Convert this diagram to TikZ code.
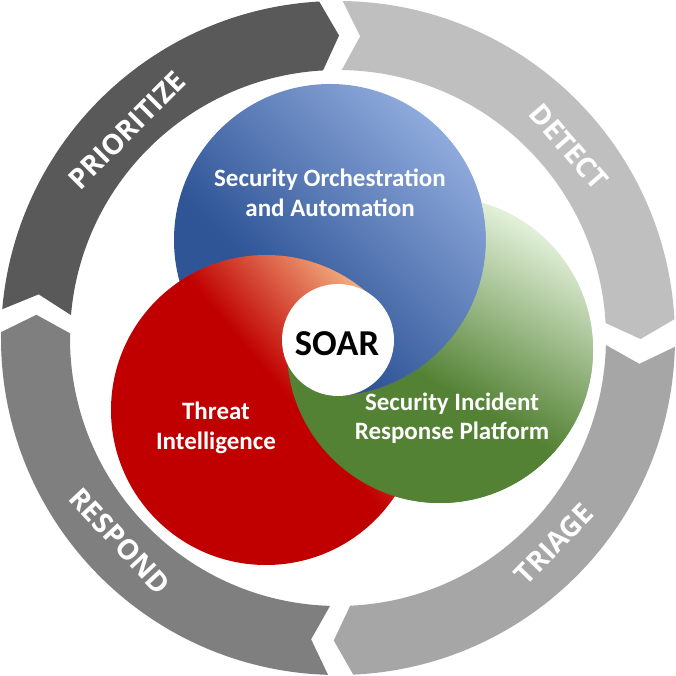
\documentclass[tikz,border=0pt]{standalone}
\usepackage{fontspec}
\newfontfamily\carlito{Carlito}
\newfontfamily\ringfont{Open Sans}
\definecolor{bluedark}{HTML}{2F5597}
\definecolor{bluelight}{HTML}{8FAADC}
\definecolor{reddark}{HTML}{C00000}
\definecolor{redlight}{HTML}{F4B183}
\definecolor{greendark}{HTML}{548235}
\definecolor{greenlight}{HTML}{E2F0D9}
\definecolor{segA}{HTML}{595959}
\definecolor{segB}{HTML}{BFBFBF}
\definecolor{segC}{HTML}{A6A6A6}
\definecolor{segD}{HTML}{7F7F7F}
\pgfdeclarehorizontalshading{blueshade}{100bp}{color(0bp)=(bluedark); color(38bp)=(bluedark); color(75bp)=(bluelight); color(100bp)=(bluelight)}
\pgfdeclarehorizontalshading{redshade}{100bp}{color(0bp)=(reddark); color(54bp)=(reddark); color(75bp)=(redlight); color(100bp)=(redlight)}
\pgfdeclarehorizontalshading{greenshade}{100bp}{color(0bp)=(greendark); color(45bp)=(greendark); color(75bp)=(greenlight); color(100bp)=(greenlight)}
\newcommand\ringseg[3]{%
  \fill[#1] ({#2}:337pt) arc[start angle={#2}, end angle={#3}, radius=337pt]
    -- ({#3-3.4}:302.5pt) -- ({#3}:268pt)
    arc[start angle={#3}, end angle={#2}, radius=268pt]
    -- ({#2-3.4}:302.5pt) -- cycle;}
\tikzset{
  ringlabel/.style={text=white, font=\ringfont\bfseries\fontsize{28}{30}\selectfont, inner sep=0pt},
  circlelabel/.style={text=white, font=\carlito\bfseries\fontsize{25}{29.5}\selectfont, align=center, inner sep=0pt},
  bluefill/.style={shading=blueshade, shading angle=45},
  redfill/.style={shading=redshade, shading angle=40},
  greenfill/.style={shading=greenshade, shading angle=60}
}
\begin{document}
\begin{tikzpicture}[x=1pt,y=1pt]
\fill[white] (-338,-338) rectangle (338,338);
\useasboundingbox (-338,-338) rectangle (338,338);
% ring segments
\ringseg{segA}{175.1}{93.2}
\ringseg{segB}{89.2}{3.2}
\ringseg{segC}{-1.5}{-87.4}
\ringseg{segD}{268.3}{179}
% ring labels
\node[ringlabel, rotate=45] (prio) at (-211,208) {PRIORITIZE};
\node[ringlabel, rotate=-49] (detect) at (231,191) {DETECT};
\node[ringlabel, rotate=46] (triage) at (216,-206) {TRIAGE};
\node[ringlabel, rotate=-47] (respond) at (-218,-203) {RESPOND};
% circles
\coordinate (cb) at (-8,98);
\coordinate (cr) at (-72,-72);
\coordinate (cg) at (102,-12);
\coordinate (cs) at (0,-2);
\shade[greenfill] (cg) circle[radius=153pt];
\shade[bluefill] (cb) circle[radius=156pt];
\shade[redfill] (cr) circle[radius=155pt];
\begin{scope}
  \clip (-338,-338) -- (338,-338) -- (338,338) -- (-338,338) -- cycle
        (cb) ++(156pt,0) arc[start angle=0, end angle=-360, radius=156pt] -- cycle;
  \shade[greenfill] (cg) circle[radius=153pt];
\end{scope}
% triple overlap: woven parts
\begin{scope}
  \clip (cr) circle[radius=158pt];
  \clip (cg) circle[radius=153pt];
  \clip (cs) -- ++(-80:300pt) arc[start angle=-80, end angle=30, radius=300pt] -- cycle;
  \shade[bluefill] (cb) circle[radius=156pt];
\end{scope}
\begin{scope}
  \clip (cr) circle[radius=155pt];
  \clip (cb) circle[radius=159pt];
  \clip (cs) -- ++(205:300pt) arc[start angle=205, end angle=280, radius=300pt] -- cycle;
  \shade[greenfill] (cg) circle[radius=153pt];
\end{scope}
% SOAR
\node[circle, fill=white, minimum size=112pt, inner sep=0pt] (soarc) at (cs) {};
\node[font=\carlito\bfseries\fontsize{36.5}{40}\selectfont, text=black, inner sep=0pt] (soar) at (-1,-6) {SOAR};
% circle labels
\node[circlelabel] (soa) at (-8,145) {Security Orchestration\\and Automation};
\node[circlelabel] (ti) at (-122,-90) {Threat\\Intelligence};
\node[circlelabel] (sirp) at (114,-80) {Security Incident\\Response Platform};
\end{tikzpicture}
\end{document}
